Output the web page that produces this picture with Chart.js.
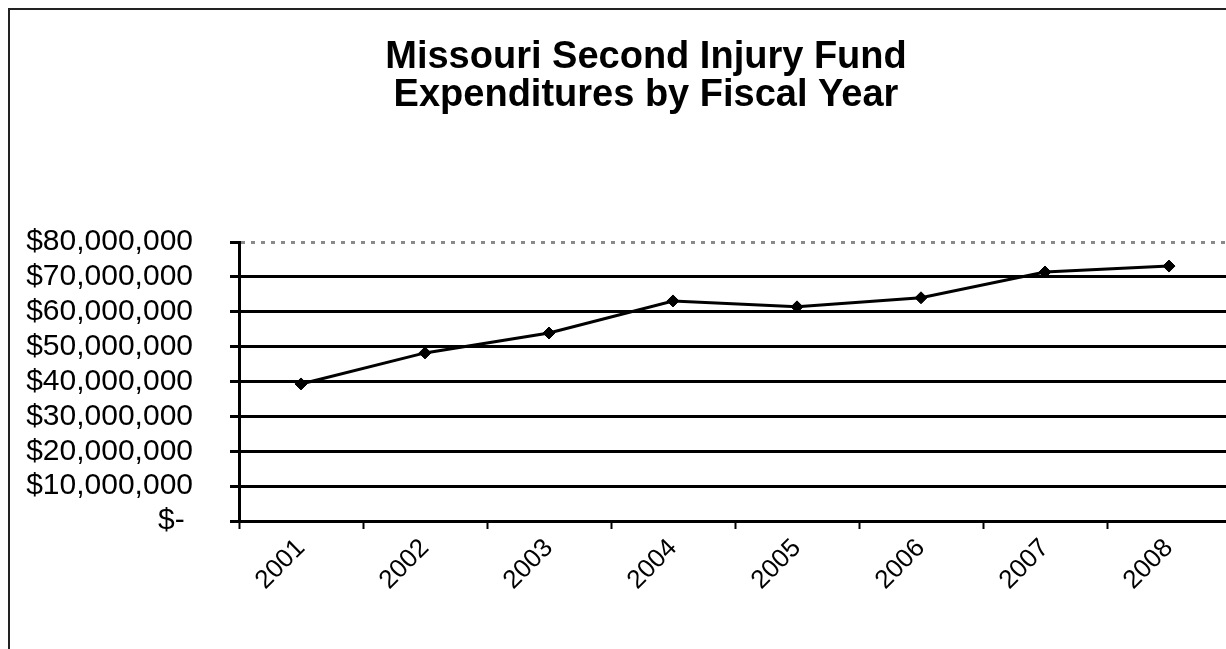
<!DOCTYPE html>
<html>
<head>
<meta charset="utf-8">
<script src="https://cdn.jsdelivr.net/npm/chart.js@4"></script>
<style>
    html, body { margin: 0; padding: 0; overflow: hidden; background: #fff; }
    #wrap { position: relative; width: 1292px; height: 649px; }
    #frame { position: absolute; left: 8px; top: 8px; width: 1300px; height: 660px;
             border-top: 2px solid #222; border-left: 2px solid #222; }
    #chart { position: absolute; left: 0; top: 0; }
</style>
</head>
<body>
<div id="wrap">
    <div id="frame"></div>
    <canvas id="chart" width="1292" height="649"></canvas>
</div>
<script>
// chart data
const years = ["2001", "2002", "2003", "2004", "2005", "2006", "2007", "2008"];
const expenditures = [39300000, 48200000, 53900000, 63100000, 61400000, 64000000, 71400000, 73100000];
const yMin = 0;
const yMax = 80000000;
const yStep = 10000000;
const titleLines = ["Missouri Second Injury Fund", "Expenditures by Fiscal Year"];

document.addEventListener("DOMContentLoaded", function () {
    const font = "'Liberation Sans', Arial, Helvetica, sans-serif";
    const ctx = document.getElementById("chart").getContext("2d");

    new Chart(ctx, {
        type: "line",
        data: {
            labels: years,
            datasets: [{
                data: expenditures,
                borderColor: "#000",
                backgroundColor: "#000",
                borderWidth: 3,
                pointStyle: "rectRot",
                pointRadius: 6,
                pointBorderWidth: 1,
                tension: 0
            }]
        },
        options: {
            responsive: false,
            animation: false,
            layout: { padding: 0 },
            plugins: {
                legend: { display: false },
                tooltip: { enabled: false },
                title: {
                    display: true,
                    text: titleLines,
                    color: "#000",
                    font: { family: font, size: 38, weight: "bold", lineHeight: 1.0 },
                    padding: { top: 39, bottom: 127 }
                }
            },
            scales: {
                x: {
                    offset: true,
                    afterFit: s => { s.height = 128; },
                    grid: {
                        offset: true,
                        drawOnChartArea: false,
                        drawTicks: true,
                        tickLength: 8,
                        tickColor: "#000",
                        tickWidth: 2
                    },
                    border: { display: true, color: "#000", width: 3 },
                    ticks: {
                        color: "#000",
                        font: { family: font, size: 26 },
                        maxRotation: 45,
                        minRotation: 45,
                        padding: 4,
                        autoSkip: false
                    }
                },
                y: {
                    min: yMin,
                    max: yMax,
                    afterFit: s => { s.width = 239; },
                    grid: {
                        color: c => (c.tick && c.tick.value === yMax) ? "#8a8a8a" : "#000",
                        lineWidth: 3,
                        drawTicks: true,
                        tickLength: 9,
                        tickColor: "#000"
                    },
                    border: {
                        display: true, color: "#000", width: 3,
                        dash: c => (c.tick && c.tick.value === yMax) ? [4, 6] : []
                    },
                    ticks: {
                        stepSize: yStep,
                        autoSkip: false,
                        color: "#000",
                        padding: 37,
                        font: { family: font, size: 30 },
                        callback: v => v === 0 ? "$- " : "$" + v.toLocaleString("en-US")
                    }
                },
                // empty right-hand axis: the original chart runs past the scan's right edge
                yRight: {
                    position: "right",
                    min: yMin,
                    max: yMax,
                    afterFit: s => { s.width = 61; },
                    grid: { drawOnChartArea: false, drawTicks: false },
                    border: { display: false },
                    ticks: { display: false }
                }
            }
        }
    });
});
</script>
</body>
</html>
